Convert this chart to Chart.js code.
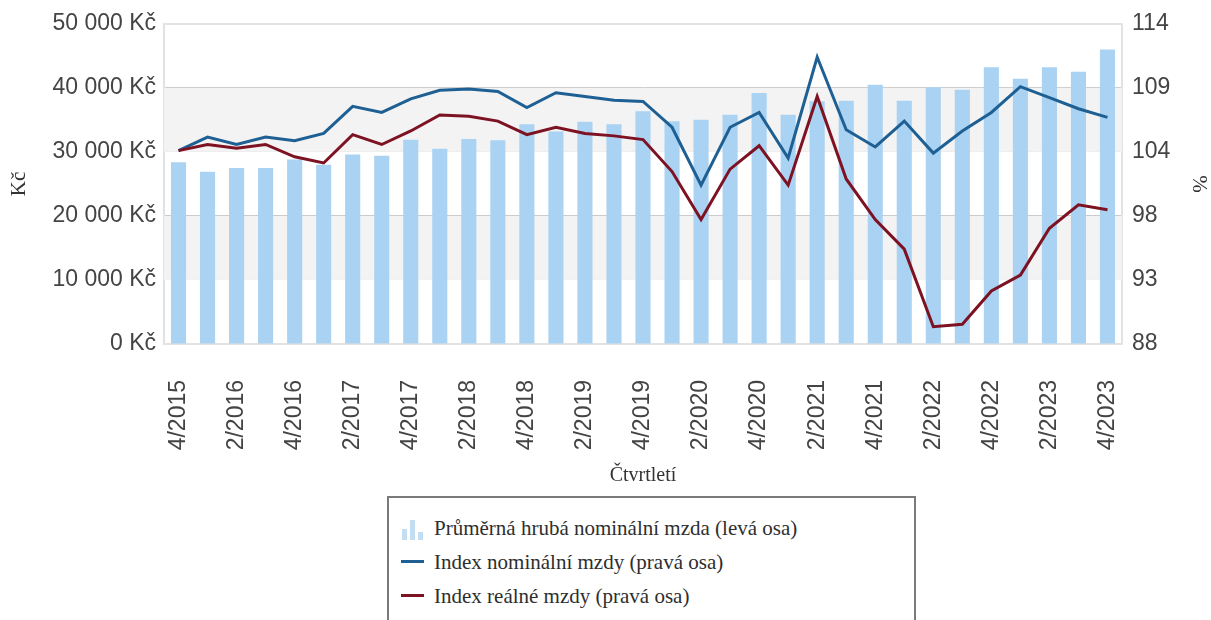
<!DOCTYPE html>
<html>
<head>
<meta charset="utf-8">
<script src="https://cdn.jsdelivr.net/npm/chart.js@4/dist/chart.umd.min.js"></script>
<style>
  body { margin: 0; background: #fff; }
  #wrap { position: relative; width: 1211px; height: 620px; overflow: hidden; }
  #legend {
    position: absolute; left: 387px; top: 496px; width: 525px; height: 160px;
    border: 2px solid #7a7a7a; background: #fff;
    font-family: 'Liberation Serif', serif; font-size: 21px; color: #2e2e2e;
  }
  .row { position: absolute; left: 12px; height: 34px; line-height: 34px; white-space: nowrap; }
  .row .txt { position: absolute; left: 33px; top: 0; }
  .line-ico { position: absolute; left: 0; top: 15px; width: 23px; height: 3px; }
  .bar-ico span { position: absolute; bottom: 5px; width: 5px; background: #c3ddf3; }
</style>
</head>
<body>
<div id="wrap">
  <canvas id="myChart" width="1211" height="620"></canvas>
  <div id="legend">
    <div class="row" style="top:13px">
      <div class="bar-ico">
        <span style="left:1px;height:11px;top:auto"></span>
        <span style="left:9px;height:20px"></span>
        <span style="left:17px;height:8px"></span>
      </div>
      <span class="txt">Průměrná hrubá nominální mzda (levá osa)</span>
    </div>
    <div class="row" style="top:47px">
      <div class="line-ico" style="background:#1e6093"></div>
      <span class="txt">Index nominální mzdy (pravá osa)</span>
    </div>
    <div class="row" style="top:81px">
      <div class="line-ico" style="background:#7d1222"></div>
      <span class="txt">Index reálné mzdy (pravá osa)</span>
    </div>
  </div>
</div>
<script>
// quarters on the x axis
const quarters = [
  '4/2015',
  '1/2016', '2/2016', '3/2016', '4/2016',
  '1/2017', '2/2017', '3/2017', '4/2017',
  '1/2018', '2/2018', '3/2018', '4/2018',
  '1/2019', '2/2019', '3/2019', '4/2019',
  '1/2020', '2/2020', '3/2020', '4/2020',
  '1/2021', '2/2021', '3/2021', '4/2021',
  '1/2022', '2/2022', '3/2022', '4/2022',
  '1/2023', '2/2023', '3/2023', '4/2023',
];

// average gross nominal wage, Kč (left axis)
const wage = [
  28400,
  26900, 27500, 27500, 28800,
  28000, 29600, 29400, 31900,
  30500, 32000, 31800, 34300,
  33200, 34700, 34300, 36350,
  34800, 35000, 35800, 39200,
  35800, 37900, 38000, 40500,
  38000, 40100, 39700, 43200,
  41400, 43200, 42500, 46000,
];

// nominal wage index, % (right axis)
const nominalIndex = [
  103.7,
  104.8, 104.2, 104.8, 104.5,
  105.1, 107.3, 106.8, 107.9,
  108.6, 108.7, 108.5, 107.2,
  108.4, 108.1, 107.8, 107.7,
  105.6, 100.9, 105.6, 106.8,
  103.1, 111.3, 105.4, 104.0,
  106.1, 103.5, 105.3, 106.8,
  108.9, 108.0, 107.1, 106.4,
];

// real wage index, % (right axis)
const realIndex = [
  103.7,
  104.2, 103.9, 104.2, 103.2,
  102.7, 105.0, 104.2, 105.3,
  106.6, 106.5, 106.1, 105.0,
  105.6, 105.1, 104.9, 104.6,
  102.0, 98.1, 102.2, 104.1,
  100.9, 108.1, 101.4, 98.1,
  95.7, 89.4, 89.6, 92.3,
  93.6, 97.4, 99.3, 98.9,
];

const leftTicks = [0, 10000, 20000, 30000, 40000, 50000];
const rightTicks = [88, 93.2, 98.4, 103.6, 108.8, 114];

const fmtKc = (v) => String(v).replace(/\B(?=(\d{3})+(?!\d))/g, ' ') + ' Kč';

// grey bands between every other pair of gridlines
const bands = {
  id: 'bands',
  beforeDatasetsDraw: (chart) => {
    const {ctx, chartArea} = chart;
    const y = chart.scales.y;
    ctx.save();
    ctx.fillStyle = '#f3f3f3';
    for (let i = 1; i < leftTicks.length - 1; i += 2) {
      const top = y.getPixelForValue(leftTicks[i + 1]);
      const bottom = y.getPixelForValue(leftTicks[i]);
      ctx.fillRect(chartArea.left, top, chartArea.right - chartArea.left, bottom - top);
    }
    ctx.restore();
  },
};

const tickFont = {family: 'Liberation Sans', size: 23};
const titleFont = {family: 'Liberation Serif', size: 21};

const ctx = document.getElementById('myChart').getContext('2d');
new Chart(ctx, {
  data: {
    labels: quarters,
    datasets: [
      {
        type: 'line',
        label: 'Index reálné mzdy (pravá osa)',
        data: realIndex,
        yAxisID: 'y1',
        borderColor: '#7d1222',
        borderWidth: 3,
        pointRadius: 0,
        tension: 0,
        order: 1,
      },
      {
        type: 'line',
        label: 'Index nominální mzdy (pravá osa)',
        data: nominalIndex,
        yAxisID: 'y1',
        borderColor: '#1e6093',
        borderWidth: 3,
        pointRadius: 0,
        tension: 0,
        order: 2,
      },
      {
        type: 'bar',
        label: 'Průměrná hrubá nominální mzda (levá osa)',
        data: wage,
        yAxisID: 'y',
        backgroundColor: '#aad2f2',
        barPercentage: 0.52,
        categoryPercentage: 1,
        order: 3,
      },
    ],
  },
  options: {
    responsive: false,
    animation: false,
    devicePixelRatio: 1,
    layout: {padding: {left: 0, right: 0, top: 22, bottom: 130}},
    plugins: {legend: {display: false}, tooltip: {enabled: false}},
    scales: {
      x: {
        offset: true,
        grid: {display: false, drawTicks: false},
        border: {display: true, color: '#e2e2e2', width: 2},
        ticks: {
          autoSkip: false,
          maxRotation: 90,
          minRotation: 90,
          padding: 36,
          color: '#444',
          font: tickFont,
          callback: (v, i) => (i % 2 === 0 ? quarters[i] : ''),
        },
        title: {
          display: true,
          text: 'Čtvrtletí',
          color: '#333',
          font: {family: 'Liberation Serif', size: 20},
          padding: {top: 0, bottom: 2},
        },
        afterFit: (s) => { s.height = 146; },
      },
      y: {
        position: 'left',
        min: 0,
        max: 50000,
        afterBuildTicks: (s) => { s.ticks = leftTicks.map((v) => ({value: v})); },
        grid: {
          drawTicks: false,
          color: (c) => (c.index === leftTicks.length - 1 || c.index === 0 ? '#e2e2e2' : '#c8c8c8'),
          lineWidth: (c) => (c.index === leftTicks.length - 1 ? 2 : 1),
        },
        border: {display: true, color: '#e2e2e2', width: 2},
        ticks: {padding: 8, color: '#444', font: tickFont, callback: (v) => fmtKc(v)},
        title: {display: true, text: 'Kč', color: '#333', font: titleFont, padding: {top: 7, bottom: 0}},
        afterFit: (s) => { s.width = 164; },
      },
      y1: {
        position: 'right',
        min: 88,
        max: 114,
        afterBuildTicks: (s) => { s.ticks = rightTicks.map((v) => ({value: v})); },
        grid: {display: false, drawTicks: false},
        border: {display: true, color: '#e2e2e2', width: 2},
        ticks: {padding: 10, color: '#444', font: tickFont, callback: (v) => String(Math.round(v))},
        title: {display: true, text: '%', color: '#333', font: titleFont, padding: {top: 0, bottom: 0}},
        afterFit: (s) => { s.width = 89; },
      },
    },
  },
  plugins: [bands],
});
</script>
</body>
</html>
